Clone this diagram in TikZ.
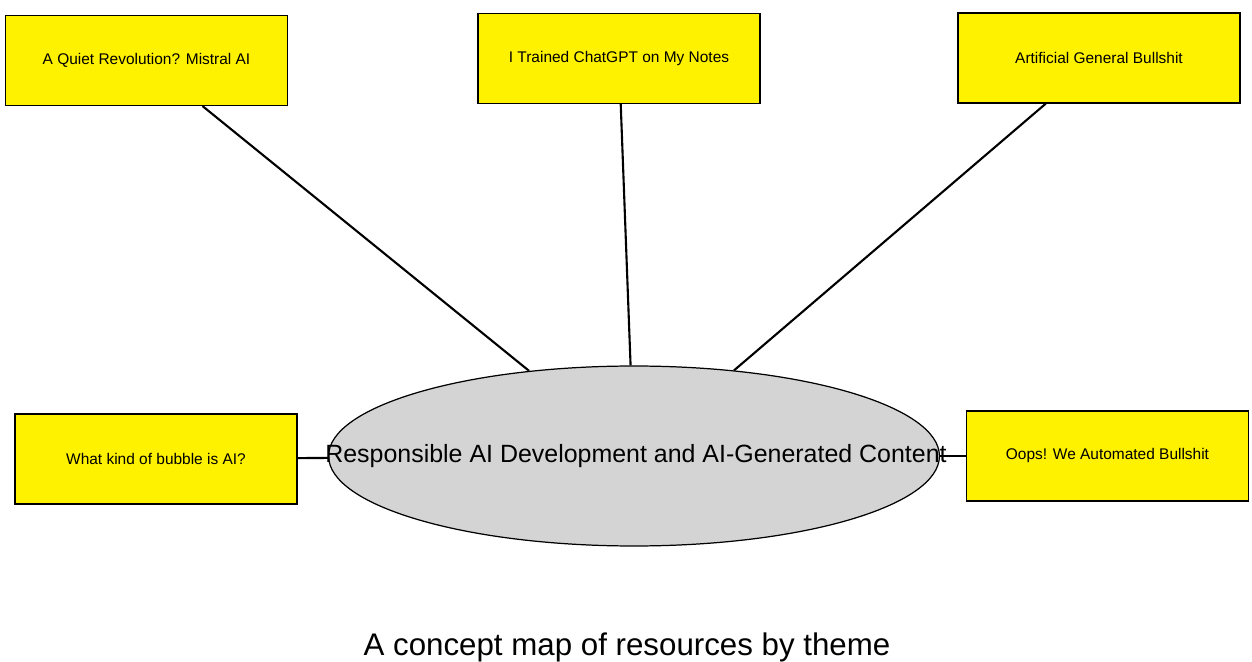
\documentclass[tikz,border=0pt]{standalone}
\usepackage{fontspec}
\setmainfont{Liberation Sans}
\usetikzlibrary{shapes.geometric}

\tikzset{
    topic/.style={draw, fill=yellow, line width=0.7pt, minimum width=5.64cm,
	minimum height=1.8cm, font=\fontsize{8.8}{10.5}\selectfont},
    link/.style={line width=1.2pt}
}

\begin{document}
\begin{tikzpicture}[x=0.02cm, y=-0.02cm]
    \useasboundingbox (0, 0) rectangle (1252, 662);
    \node [ellipse, draw, fill=black!17, line width=0.7pt, minimum width=12.22cm,
	minimum height=3.6cm] (theme) at (634, 456) {};
    \node (themetext) at (636, 456) {\fontsize{14.2}{17}\selectfont Responsible AI Development and AI-Generated Content};
    \node [topic] (mistral) at (146.5, 60.5) {A Quiet Revolution? Mistral AI};
    \node [topic] (notes) at (619, 58.5) {I Trained ChatGPT on My Notes};
    \node [topic] (agb) at (1099, 58) {Artificial General Bullshit};
    \node [topic] (bubble) at (156, 459) {What kind of bubble is AI?};
    \node [topic] (oops) at (1107.5, 456) {Oops! We Automated Bullshit};
    \draw[link] (mistral) -- (theme);
    \draw[link] (notes) -- (theme);
    \draw[link] (agb) -- (theme);
    \draw[link] (bubble) -- (theme);
    \draw[link] (oops) -- (theme);
    \node (caption) at (627, 647) {\fontsize{17.8}{21}\selectfont A concept map of resources by theme};
\end{tikzpicture}
\end{document}
